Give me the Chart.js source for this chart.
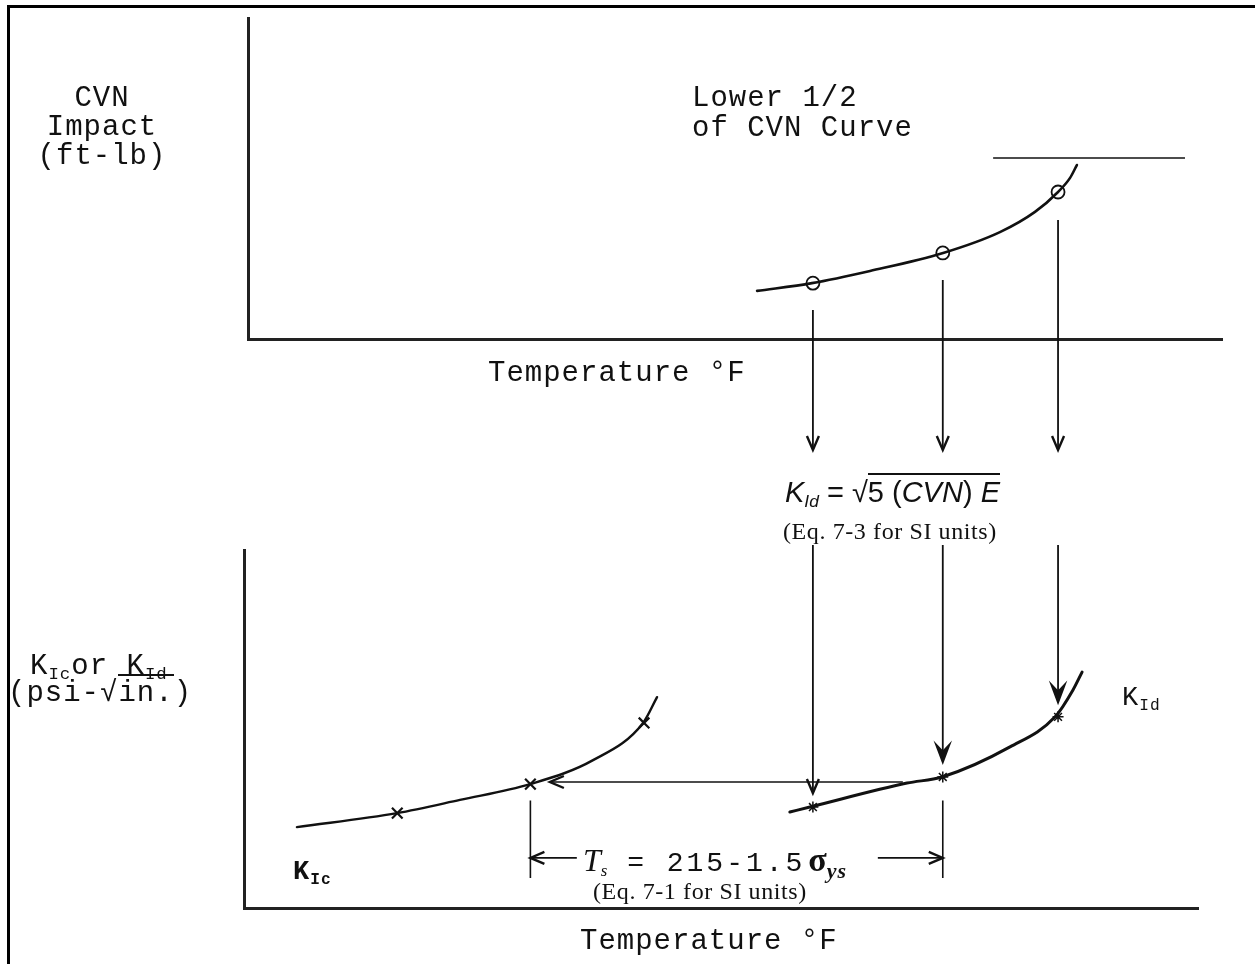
<!DOCTYPE html>
<html>
<head>
<meta charset="utf-8">
<title>CVN to KId to KIc</title>
<script src="https://cdn.jsdelivr.net/npm/chart.js@4.4.1/dist/chart.umd.min.js"></script>
<style>
  body { margin: 0; background: #fff; }
  #page { position: relative; width: 1255px; height: 964px; overflow: hidden; color: #111; }
  #frame { position: absolute; left: 7px; top: 5px; width: 1300px; height: 1000px; border-top: 3px solid #000; border-left: 3px solid #000; }
  canvas { position: absolute; left: 0; }
  #topChart { top: 0; }
  #botChart { top: 470px; }
  .lbl { position: absolute; white-space: nowrap; }
  .mono { font-family: "Liberation Mono", "Courier New", monospace; font-size: 29px; line-height: 30px; letter-spacing: 1px; }
  .serif { font-family: "Liberation Serif", "Times New Roman", serif; font-size: 24px; line-height: 24px; letter-spacing: 0.6px; }
  .sans { font-family: "Liberation Sans", Arial, sans-serif; font-size: 29px; line-height: 29px; }
  .it { font-family: "Liberation Serif", "Times New Roman", serif; font-style: italic; }
  sub { font-size: 60%; vertical-align: -0.3em; line-height: 0; }
  .over { border-top: 2px solid #111; padding-top: 1px; }
</style>
</head>
<body>
<div id="page">
  <div id="frame"></div>
  <canvas id="topChart" width="1255" height="470"></canvas>
  <canvas id="botChart" width="1255" height="494"></canvas>

  <div class="lbl mono" style="left:32px; top:84px; width:140px; text-align:center; line-height:29px;">CVN<br>Impact<br>(ft-lb)</div>
  <div class="lbl mono" style="left:692px; top:84px;">Lower 1/2<br>of CVN Curve</div>
  <div class="lbl mono" style="left:488px; top:359px;">Temperature °F</div>

  <div class="lbl sans" style="left:785px; top:478px;"><i>K</i><sub><i>Id</i></sub> = √<span class="over">5 (<i>CVN</i>) <i>E</i></span></div>
  <div class="lbl serif" style="left:783px; top:519px;">(Eq. 7-3 for SI units)</div>

  <div class="lbl mono" style="left:30px; top:653px; line-height:27px;">K<sub>Ic</sub>or K<sub>Id</sub><br><span style="margin-left:-22px;">(psi-√<span class="over">in.</span>)</span></div>

  <div class="lbl mono" style="left:293px; top:857px; font-size:27px; letter-spacing:1px; font-weight:bold;">K<sub>Ic</sub></div>
  <div class="lbl mono" style="left:1122px; top:683px; font-size:27px; letter-spacing:1px;">K<sub>Id</sub></div>

  <div class="lbl mono" style="left:583px; top:845px; font-size:28px; letter-spacing:3px;"><span class="it" style="font-size:32px; letter-spacing:0;">T</span><sub class="it" style="letter-spacing:0;">s</sub> = 215-1.5<b style="font-family:'Liberation Serif',serif; font-size:34px; letter-spacing:0; margin-left:3px;">σ</b><sub class="it" style="font-weight:bold; font-size:22px; letter-spacing:1px;">ys</sub></div>
  <div class="lbl serif" style="left:593px; top:879px;">(Eq. 7-1 for SI units)</div>
  <div class="lbl mono" style="left:580px; top:927px;">Temperature °F</div>
</div>

<script>
//************* DATA */

// top panel: lower half of the CVN curve (temperature, ft-lb)
var cvnTemp = [6.8, 23.7, 41.6, 64.1, 81.6, 92.4, 99.5, 103.2, 105.3];
var cvnVal  = [15.0, 17.4, 21.2, 26.8, 33.3, 39.6, 45.8, 50.2, 54.2];

// the three test temperatures (circles on CVN, stars on KId)
var testTemp = [24, 64, 99.5];
var testCvn  = [17.4, 26.8, 45.8];

// upper shelf line
var shelfTemp = [79.5, 138.6];
var shelfCvn  = [56.4, 56.4];

// arrows from the CVN points down past the axis
var arrowTopStart = [9.0, 18.4, 37.1];
var arrowTopEnd = -34.6;

// bottom panel: static KIc curve
var kicTemp = [-134.9, -104.1, -84.7, -63.1, -43.7, -28.3, -24.0];
var kicVal  = [22.6, 26.5, 30.2, 34.6, 41.3, 51.7, 58.9];
var kicMarkTemp = [-104, -63, -28];
var kicMarkVal  = [26.5, 34.6, 51.7];

// dynamic KId curve
var kidTemp = [16.9, 23.1, 53.0, 63.8, 84.7, 98.6, 104.1, 106.9];
var kidVal  = [26.8, 28.2, 34.9, 36.6, 45.0, 53.4, 60.9, 65.9];
var kidMarkVal = [28.2, 36.6, 53.4];

// arrows coming in from the KId equation
var arrowBotStart = 101.4;
var arrowBotEnd = [32.1, 40.9, 57.6];
var arrowBotHead = ['open', 'filled', 'filled'];

// shift arrow KId -> KIc
var shiftFrom = 51.7, shiftTo = -57.0, shiftVal = 35.2;

// Ts dimension
var tsTickTop = 30.0, tsTickBottom = 8.4, tsArrowVal = 14.0;
var tsLeftFrom = -48.7, tsRightFrom = 44.0;

//************* HELPERS */

function zip(xs, ys) {
  return xs.map(function (x, i) { return { x: x, y: ys[i] }; });
}

function lineSet(pts, width, head) {
  return {
    data: pts,
    borderColor: '#111',
    borderWidth: width || 1.8,
    pointRadius: 0,
    tension: 0,
    clip: false,
    arrow: head
  };
}

// draws arrow heads at the last point of datasets flagged with "arrow"
const arrowHeads = {
  id: 'arrowHeads',
  afterDatasetsDraw(chart) {
    const ctx = chart.ctx;
    chart.data.datasets.forEach(function (ds, i) {
      if (!ds.arrow) return;
      const pts = chart.getDatasetMeta(i).data;
      const a = pts[pts.length - 2], b = pts[pts.length - 1];
      const ang = Math.atan2(b.y - a.y, b.x - a.x);
      const len = ds.arrow === 'filled' ? 16 : 14;
      const w = 6;
      const bx = b.x - len * Math.cos(ang), by = b.y - len * Math.sin(ang);
      ctx.save();
      ctx.strokeStyle = '#111';
      ctx.fillStyle = '#111';
      ctx.lineWidth = 2.4;
      ctx.lineJoin = 'miter';
      ctx.beginPath();
      ctx.moveTo(bx + w * Math.sin(ang), by - w * Math.cos(ang));
      ctx.lineTo(b.x, b.y);
      ctx.lineTo(bx - w * Math.sin(ang), by + w * Math.cos(ang));
      if (ds.arrow === 'filled') {
        ctx.lineTo(b.x - 0.6 * len * Math.cos(ang), b.y - 0.6 * len * Math.sin(ang));
        ctx.closePath();
        ctx.fill();
      }
      ctx.stroke();
      ctx.restore();
    });
  }
};

function axisOpts(min, max) {
  return {
    type: 'linear',
    min: min,
    max: max,
    ticks: { display: false },
    grid: { display: false, drawTicks: false },
    border: { display: true, color: '#222', width: 3 }
  };
}

function baseOptions(xMin, xMax, yMin, yMax, pad) {
  return {
    responsive: false,
    animation: false,
    layout: { padding: pad },
    plugins: { legend: { display: false }, tooltip: { enabled: false } },
    scales: { x: axisOpts(xMin, xMax), y: axisOpts(yMin, yMax) }
  };
}

//************* TOP CHART: CVN */

var topSets = [
  Object.assign(lineSet(zip(cvnTemp, cvnVal), 2.6), { cubicInterpolationMode: 'monotone', borderCapStyle: 'round' }),
  {
    data: zip(testTemp, testCvn),
    showLine: false,
    pointStyle: 'circle',
    pointRadius: 6.5,
    pointBorderWidth: 1.8,
    pointBorderColor: '#111',
    pointBackgroundColor: 'rgba(0,0,0,0)',
    clip: false
  },
  lineSet(zip(shelfTemp, shelfCvn), 1.5)
];
testTemp.forEach(function (t, i) {
  topSets.push(lineSet([{ x: t, y: arrowTopStart[i] }, { x: t, y: arrowTopEnd }], 1.8, 'open'));
});

new Chart(document.getElementById('topChart'), {
  type: 'line',
  data: { datasets: topSets },
  options: baseOptions(-150, 150, 0, 100, { left: 248, right: 33, top: 18, bottom: 131 }),
  plugins: [arrowHeads]
});

//************* BOTTOM CHART: KIc / KId */

var botSets = [
  Object.assign(lineSet(zip(kicTemp, kicVal), 2.4), { cubicInterpolationMode: 'monotone', borderCapStyle: 'round' }),
  {
    data: zip(kicMarkTemp, kicMarkVal),
    showLine: false,
    pointStyle: 'crossRot',
    pointRadius: 7.5,
    pointBorderWidth: 2.2,
    pointBorderColor: '#111',
    clip: false
  },
  Object.assign(lineSet(zip(kidTemp, kidVal), 3), { cubicInterpolationMode: 'monotone', borderCapStyle: 'round' }),
  {
    data: zip(testTemp, kidMarkVal),
    showLine: false,
    pointStyle: 'star',
    pointRadius: 5.5,
    pointBorderWidth: 1.5,
    pointBorderColor: '#111',
    clip: false
  },
  lineSet([{ x: shiftFrom, y: shiftVal }, { x: shiftTo, y: shiftVal }], 1.6, 'open'),
  lineSet([{ x: kicMarkTemp[1], y: tsTickTop }, { x: kicMarkTemp[1], y: tsTickBottom }], 1.6),
  lineSet([{ x: testTemp[1], y: tsTickTop }, { x: testTemp[1], y: tsTickBottom }], 1.6),
  lineSet([{ x: tsLeftFrom, y: tsArrowVal }, { x: kicMarkTemp[1], y: tsArrowVal }], 1.6, 'open'),
  lineSet([{ x: tsRightFrom, y: tsArrowVal }, { x: testTemp[1], y: tsArrowVal }], 1.6, 'open')
];
testTemp.forEach(function (t, i) {
  botSets.push(lineSet([{ x: t, y: arrowBotStart }, { x: t, y: arrowBotEnd[i] }], 1.8, arrowBotHead[i]));
});

new Chart(document.getElementById('botChart'), {
  type: 'line',
  data: { datasets: botSets },
  options: baseOptions(-151.2, 142.6, 0, 100, { left: 244, right: 57, top: 80, bottom: 56 }),
  plugins: [arrowHeads]
});
</script>
</body>
</html>
